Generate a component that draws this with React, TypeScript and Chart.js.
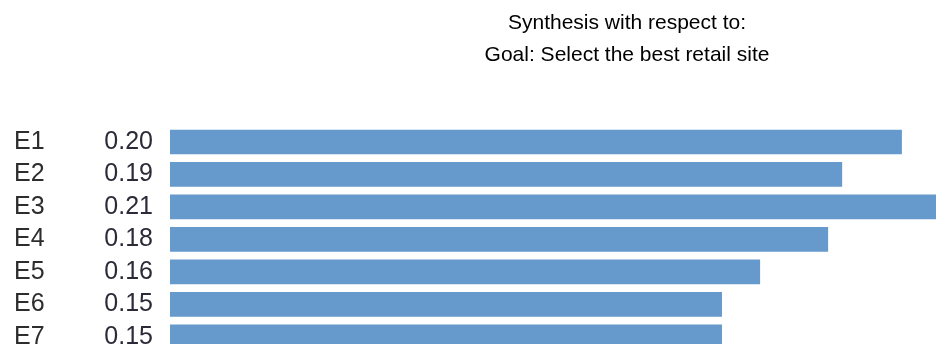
import React, { useEffect, useRef } from "react";
import { Chart, registerables } from "chart.js";

Chart.register(...registerables);

const categories: string[] = ["E1", "E2", "E3", "E4", "E5", "E6", "E7"];
const priorities: number[] = [0.2033, 0.1867, 0.214, 0.1828, 0.1639, 0.1533, 0.1533];
const priorityLabels: string[] = priorities.map((v) => v.toFixed(2));
const titleLines: string[] = ["Synthesis with respect to:", "Goal: Select the best retail site"];

const FONT = "'Liberation Sans', Arial, Helvetica, sans-serif";

export default function App() {
  const ref = useRef<HTMLCanvasElement | null>(null);

  useEffect(() => {
    if (!ref.current) return;
    const chart = new Chart(ref.current, {
      type: "bar",
      data: {
        labels: categories,
        datasets: [
          {
            data: priorities,
            backgroundColor: "#6699cc",
            borderWidth: 0,
            barThickness: 24,
            yAxisID: "y",
          },
        ],
      },
      options: {
        indexAxis: "y",
        responsive: false,
        animation: false,
        events: [],
        layout: { padding: { left: 14, right: 16, top: 0, bottom: 40 } },
        plugins: {
          legend: { display: false },
          tooltip: { enabled: false },
          title: {
            display: true,
            fullSize: false,
            text: titleLines,
            color: "#000",
            font: { family: FONT, size: 21, weight: "normal", lineHeight: 32 / 21 },
            padding: { top: 7.5, bottom: 54.25 },
          },
        },
        scales: {
          x: {
            type: "linear",
            min: 0,
            max: 0.254,
            display: false,
            grid: { display: false },
          },
          y: {
            type: "category",
            position: "left",
            weight: 2,
            offset: true,
            grid: { display: false, drawTicks: false },
            border: { display: false },
            ticks: {
              autoSkip: false,
              crossAlign: "far",
              padding: 3,
              color: "#2d2d2d",
              font: { family: FONT, size: 25 },
            },
            afterFit: (scale: any) => {
              scale.width = 90;
            },
          },
          y2: {
            type: "category",
            axis: "y",
            position: "left",
            weight: 1,
            offset: true,
            labels: priorityLabels,
            grid: { display: false, drawTicks: false },
            border: { display: false },
            ticks: {
              autoSkip: false,
              crossAlign: "near",
              padding: 17,
              color: "#2d2a38",
              font: { family: FONT, size: 25 },
            },
            afterFit: (scale: any) => {
              scale.width = 66;
            },
          },
        },
      } as any,
    });
    return () => chart.destroy();
  }, []);

  return (
    <div
      style={{
        position: "fixed",
        left: 0,
        top: 0,
        width: 936,
        height: 344,
        overflow: "hidden",
        background: "#fff",
      }}
    >
      <canvas ref={ref} width={1100} height={393} style={{ width: 1100, height: 393, display: "block" }} />
    </div>
  );
}
